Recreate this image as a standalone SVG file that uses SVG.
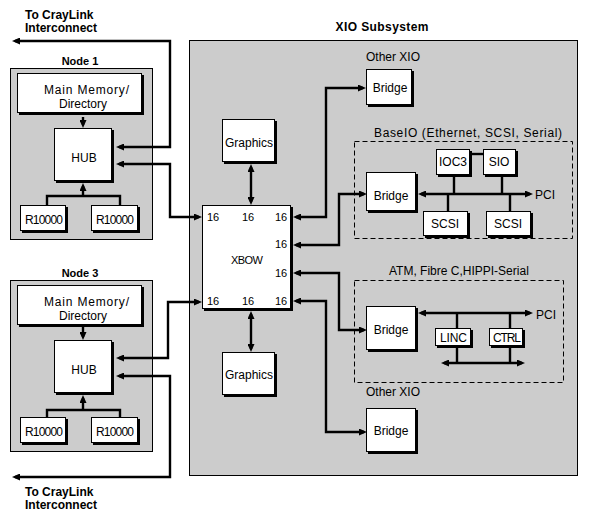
<svg xmlns="http://www.w3.org/2000/svg" width="589" height="519" viewBox="0 0 589 519">
<style>
text{font-family:"Liberation Sans",Arial,Helvetica,sans-serif;font-size:12px;fill:#000}
.b{font-weight:bold}
.s{font-size:11px}
.grp{fill:#cccccc;stroke:#000;stroke-width:1}
.bx{fill:#fff;stroke:#000;stroke-width:1}
.sh{fill:#000}
.dash{fill:none;stroke:#000;stroke-width:1;stroke-dasharray:5,3}
.ln{fill:none;stroke:#000;stroke-width:2.4}
.a2{marker-start:url(#ah);marker-end:url(#ah)}
.a1{marker-end:url(#ah)}
</style>
<defs>
<marker id="ah" markerUnits="userSpaceOnUse" markerWidth="8" markerHeight="7" refX="5" refY="3.5" orient="auto-start-reverse" viewBox="0 0 8 7">
<path d="M0,0 L8,3.5 L0,7 z" fill="#000"/>
</marker>
</defs>
<rect width="589" height="519" fill="#fff"/>

<g id="labels-craylink">
<text class="b" x="25" y="19">To CrayLink</text>
<text class="b" x="25" y="32">Interconnect</text>
<text class="b" x="25" y="496">To CrayLink</text>
<text class="b" x="25" y="509">Interconnect</text>
</g>

<g id="node1">
<rect class="grp" x="10.5" y="68.5" width="142" height="171"/>
<text class="b s" x="80" y="65" text-anchor="middle">Node 1</text>
<g id="mem1"><rect class="sh" x="19" y="75" width="125" height="40"/><rect class="bx" x="17.5" y="73.5" width="124" height="39"/>
<text x="44" y="93.5" textLength="85">Main Memory/</text><text x="59" y="108">Directory</text></g>
<g id="hub1"><rect class="sh" x="56" y="130" width="58" height="53"/><rect class="bx" x="54.5" y="128.5" width="57" height="52"/>
<text x="84" y="162" text-anchor="middle">HUB</text></g>
<g id="cpu1a"><rect class="sh" x="22" y="207" width="46" height="26"/><rect class="bx" x="20.5" y="205.5" width="45" height="25"/>
<text x="25" y="224" textLength="38">R10000</text></g>
<g id="cpu1b"><rect class="sh" x="93" y="207" width="47" height="26"/><rect class="bx" x="91.5" y="205.5" width="46" height="25"/>
<text x="96" y="224" textLength="38">R10000</text></g>
</g>

<g id="node3">
<rect class="grp" x="10.5" y="280.5" width="142" height="171"/>
<text class="b s" x="80" y="277" text-anchor="middle">Node 3</text>
<g id="mem3"><rect class="sh" x="19" y="287" width="125" height="40"/><rect class="bx" x="17.5" y="285.5" width="124" height="39"/>
<text x="44" y="305.5" textLength="85">Main Memory/</text><text x="59" y="320">Directory</text></g>
<g id="hub3"><rect class="sh" x="56" y="342" width="58" height="53"/><rect class="bx" x="54.5" y="340.5" width="57" height="52"/>
<text x="84" y="374" text-anchor="middle">HUB</text></g>
<g id="cpu3a"><rect class="sh" x="22" y="419" width="46" height="26"/><rect class="bx" x="20.5" y="417.5" width="45" height="25"/>
<text x="25" y="436" textLength="38">R10000</text></g>
<g id="cpu3b"><rect class="sh" x="93" y="419" width="47" height="26"/><rect class="bx" x="91.5" y="417.5" width="46" height="25"/>
<text x="96" y="436" textLength="38">R10000</text></g>
</g>

<g id="xio">
<rect class="grp" x="189.5" y="40.5" width="388" height="435"/>
<text class="b" x="382" y="31" text-anchor="middle" textLength="93">XIO Subsystem</text>
</g>

<g id="graphics-top"><rect class="sh" x="224" y="121" width="53" height="43"/><rect class="bx" x="222.5" y="119.5" width="52" height="42"/>
<text x="249" y="147" text-anchor="middle">Graphics</text></g>
<g id="graphics-bottom"><rect class="sh" x="224" y="354" width="53" height="43"/><rect class="bx" x="222.5" y="352.5" width="52" height="42"/>
<text x="249" y="379" text-anchor="middle">Graphics</text></g>

<g id="xbow"><rect class="sh" x="204" y="207" width="89" height="104"/><rect class="bx" x="202.5" y="205.5" width="88" height="103"/>
<text class="s" x="231" y="264" textLength="32">XBOW</text>
<text class="s" x="207" y="221">16</text><text class="s" x="242" y="221">16</text><text class="s" x="275" y="221">16</text>
<text class="s" x="275" y="248">16</text><text class="s" x="275" y="277">16</text>
<text class="s" x="207" y="305">16</text><text class="s" x="242" y="305">16</text><text class="s" x="275" y="305">16</text>
</g>

<g id="otherxio-top">
<text x="366" y="61">Other XIO</text>
<rect class="sh" x="368" y="71" width="46" height="36"/><rect class="bx" x="366.5" y="69.5" width="45" height="35"/>
<text x="390" y="92" text-anchor="middle">Bridge</text>
</g>

<g id="baseio">
<text x="374" y="137" textLength="188">BaseIO (Ethernet, SCSI, Serial)</text>
<rect class="dash" x="354.5" y="141.5" width="218" height="97"/>
<g id="bridge-baseio"><rect class="sh" x="368" y="174" width="50" height="39"/><rect class="bx" x="366.5" y="172.5" width="49" height="38"/>
<text x="391" y="200" text-anchor="middle">Bridge</text></g>
<g id="ioc3"><rect class="sh" x="438" y="151" width="34" height="26"/><rect class="bx" x="436.5" y="149.5" width="33" height="25"/>
<text x="453" y="166" text-anchor="middle">IOC3</text></g>
<g id="sio"><rect class="sh" x="485" y="151" width="33" height="26"/><rect class="bx" x="483.5" y="149.5" width="32" height="25"/>
<text x="499" y="166" text-anchor="middle">SIO</text></g>
<g id="scsi1"><rect class="sh" x="425" y="213" width="45" height="25"/><rect class="bx" x="423.5" y="211.5" width="44" height="24"/>
<text x="445" y="228" text-anchor="middle">SCSI</text></g>
<g id="scsi2"><rect class="sh" x="488" y="213" width="45" height="25"/><rect class="bx" x="486.5" y="211.5" width="44" height="24"/>
<text x="508" y="228" text-anchor="middle">SCSI</text></g>
<text x="535" y="199">PCI</text>
</g>

<g id="atm">
<text x="389" y="275">ATM, Fibre C,HIPPI-Serial</text>
<rect class="dash" x="354.5" y="280.5" width="209" height="102"/>
<g id="bridge-atm"><rect class="sh" x="368" y="308" width="50" height="44"/><rect class="bx" x="366.5" y="306.5" width="49" height="43"/>
<text x="391" y="334" text-anchor="middle">Bridge</text></g>
<g id="linc"><rect class="sh" x="437" y="330" width="36" height="18"/><rect class="bx" x="435.5" y="328.5" width="35" height="17"/>
<text x="440" y="342" textLength="27">LINC</text></g>
<g id="ctrl"><rect class="sh" x="491" y="330" width="34" height="18"/><rect class="bx" x="489.5" y="328.5" width="33" height="17"/>
<text x="493" y="342" textLength="28">CTRL</text></g>
<text x="536" y="319">PCI</text>
</g>

<g id="otherxio-bottom">
<text x="366" y="396">Other XIO</text>
<rect class="sh" x="368" y="410" width="50" height="44"/><rect class="bx" x="366.5" y="408.5" width="49" height="43"/>
<text x="391" y="435" text-anchor="middle">Bridge</text>
</g>

<g id="connectors">
<path class="ln a2" d="M15,41 H170 V147 H119"/>
<path class="ln a2" d="M119,164 H170 V217 H199"/>
<path class="ln a1" d="M83,117 V125"/>
<path class="ln" d="M47,205 V196 H120 V205"/>
<path class="ln a1" d="M83,196 V186"/>
<path class="ln a2" d="M119,358 H168 V302 H199"/>
<path class="ln a2" d="M119,376 H170 V477 H15"/>
<path class="ln a1" d="M83,327 V337"/>
<path class="ln" d="M47,417 V410 H120 V417"/>
<path class="ln a1" d="M83,410 V398"/>
<path class="ln a2" d="M251,167 V202"/>
<path class="ln a2" d="M251,314 V349"/>
<path class="ln a2" d="M296,217 H326 V88 H363"/>
<path class="ln a2" d="M296,245 H339 V194 H364"/>
<path class="ln a2" d="M296,273 H339 V330 H364"/>
<path class="ln a2" d="M296,301 H326 V432 H364"/>
<path class="ln a2" d="M421,194 H530"/>
<path class="ln" d="M470,154 H483"/>
<path class="ln" d="M454,177 V194"/>
<path class="ln" d="M502,177 V194"/>
<path class="ln" d="M448,194 V211"/>
<path class="ln" d="M510,194 V211"/>
<path class="ln a2" d="M421,313 H530"/>
<path class="ln" d="M457,313 V328"/>
<path class="ln" d="M457,348 V363"/>
<path class="ln" d="M510,313 V328"/>
<path class="ln" d="M510,348 V363"/>
<path class="ln a2" d="M444,363 H522"/>
</g>
</svg>
